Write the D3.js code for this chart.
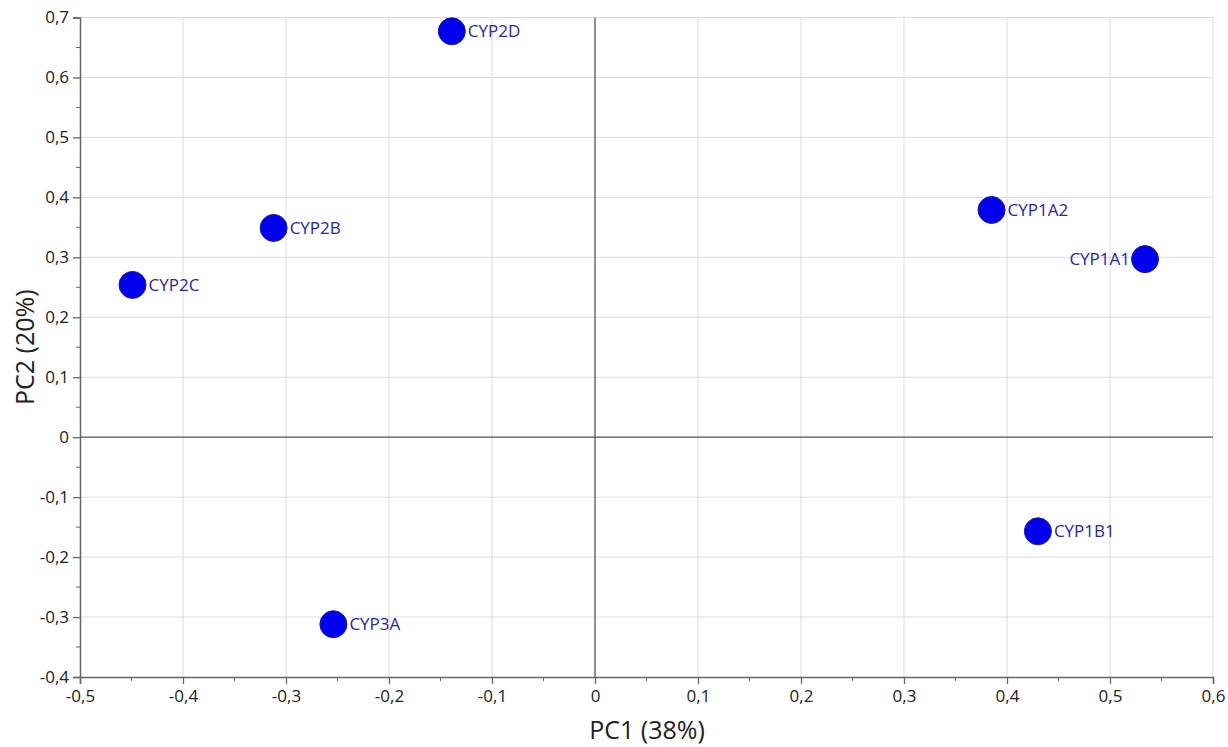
<!DOCTYPE html>
<html>
<head>
<meta charset="utf-8">
<script src="https://cdn.jsdelivr.net/npm/d3@7"></script>
<style>
  html, body { margin: 0; padding: 0; background: #fff; }
  svg { display: block; font-family: "Open Sans", "Noto Sans", sans-serif; }
</style>
</head>
<body>
<svg id="chart" width="1228" height="747"></svg>
<script>
// PCA scores of CYP subfamilies
const enzymes = ["CYP2D", "CYP2B", "CYP2C", "CYP3A", "CYP1A2", "CYP1A1", "CYP1B1"];
const pc1 = [-0.139, -0.312, -0.449, -0.254, 0.385, 0.534, 0.430];
const pc2 = [0.677, 0.349, 0.254, -0.312, 0.379, 0.297, -0.157];
const labelSide = ["right", "right", "right", "right", "right", "left", "right"];

const xTicks = [-0.5, -0.4, -0.3, -0.2, -0.1, 0, 0.1, 0.2, 0.3, 0.4, 0.5, 0.6];
const yTicks = [-0.4, -0.3, -0.2, -0.1, 0, 0.1, 0.2, 0.3, 0.4, 0.5, 0.6, 0.7];

const points = enzymes.map((name, i) => ({ name, x: pc1[i], y: pc2[i], side: labelSide[i] }));

const svg = d3.select("#chart");
const plotLeft = 80, plotRight = 1213, plotTop = 17.5, plotBottom = 677;

const x = d3.scaleLinear().domain([-0.5, 0.6]).range([plotLeft, plotRight]);
const y = d3.scaleLinear().domain([-0.4, 0.7]).range([plotBottom, plotTop]);

const fmt = v => Math.abs(v) < 1e-9 ? "0" : d3.format(".1f")(v).replace(".", ",").replace("−", "-");

// grid
const grid = svg.append("g");
grid.selectAll("line.vx").data(xTicks.filter(t => t !== -0.5 && t !== 0)).join("line")
  .attr("x1", d => x(d)).attr("x2", d => x(d)).attr("y1", plotTop).attr("y2", plotBottom)
  .attr("stroke", "#dcdcdc").attr("stroke-width", 1);
grid.selectAll("line.hy").data(yTicks.filter(t => t !== -0.4 && t !== 0)).join("line")
  .attr("x1", plotLeft).attr("x2", plotRight).attr("y1", d => y(d)).attr("y2", d => y(d))
  .attr("stroke", "#dcdcdc").attr("stroke-width", 1);

// zero lines
svg.append("line").attr("x1", x(0)).attr("x2", x(0)).attr("y1", plotTop).attr("y2", plotBottom)
  .attr("stroke", "#555").attr("stroke-width", 1.3);
svg.append("line").attr("x1", plotLeft).attr("x2", plotRight).attr("y1", y(0)).attr("y2", y(0))
  .attr("stroke", "#555").attr("stroke-width", 1.3);

// axes
const minorX = d3.range(-0.45, 0.6, 0.1);
const minorY = d3.range(-0.35, 0.7, 0.1);

const xAxis = svg.append("g").attr("transform", `translate(0,${plotBottom})`);
xAxis.call(d3.axisBottom(x).tickValues(xTicks).tickFormat(fmt).tickSize(7).tickPadding(6));
xAxis.append("g").selectAll("line").data(minorX).join("line")
  .attr("x1", d => x(d)).attr("x2", d => x(d)).attr("y1", 0).attr("y2", 4)
  .attr("stroke", "#666");

const yAxis = svg.append("g").attr("transform", `translate(${plotLeft},0)`);
yAxis.call(d3.axisLeft(y).tickValues(yTicks).tickFormat(fmt).tickSize(7).tickPadding(4));
yAxis.append("g").selectAll("line").data(minorY).join("line")
  .attr("x1", 0).attr("x2", -4).attr("y1", d => y(d)).attr("y2", d => y(d))
  .attr("stroke", "#666");

svg.selectAll(".domain").attr("stroke", "#666").attr("stroke-width", 1.5);
svg.selectAll(".tick line").attr("stroke", "#666").attr("stroke-width", 1.3);
xAxis.attr("font-size", 17).attr("font-family", "'Open Sans', 'Noto Sans', sans-serif");
yAxis.attr("font-size", 17).attr("font-family", "'Open Sans', 'Noto Sans', sans-serif");
svg.selectAll(".tick text").attr("fill", "#222");

// axis titles
svg.append("text").attr("x", 647).attr("y", 739)
  .attr("text-anchor", "middle").attr("font-size", 25).attr("fill", "#222")
  .text("PC1 (38%)");
svg.append("text").attr("transform", `translate(34,${(plotTop + plotBottom) / 2}) rotate(-90)`)
  .attr("text-anchor", "middle").attr("font-size", 25).attr("fill", "#222")
  .text("PC2 (20%)");

// points
const pg = svg.append("g");
pg.selectAll("circle").data(points).join("circle")
  .attr("cx", d => x(d.x)).attr("cy", d => y(d.y)).attr("r", 13.5)
  .attr("fill", "#0000ee").attr("stroke", "#1a1a9a").attr("stroke-width", 1);
pg.selectAll("text").data(points).join("text")
  .attr("x", d => d.side === "left" ? x(d.x) - 15 : x(d.x) + 16)
  .attr("y", d => y(d.y) + 6)
  .attr("text-anchor", d => d.side === "left" ? "end" : "start")
  .attr("font-size", 17).attr("fill", "#2626a8")
  .text(d => d.name);
</script>
</body>
</html>
